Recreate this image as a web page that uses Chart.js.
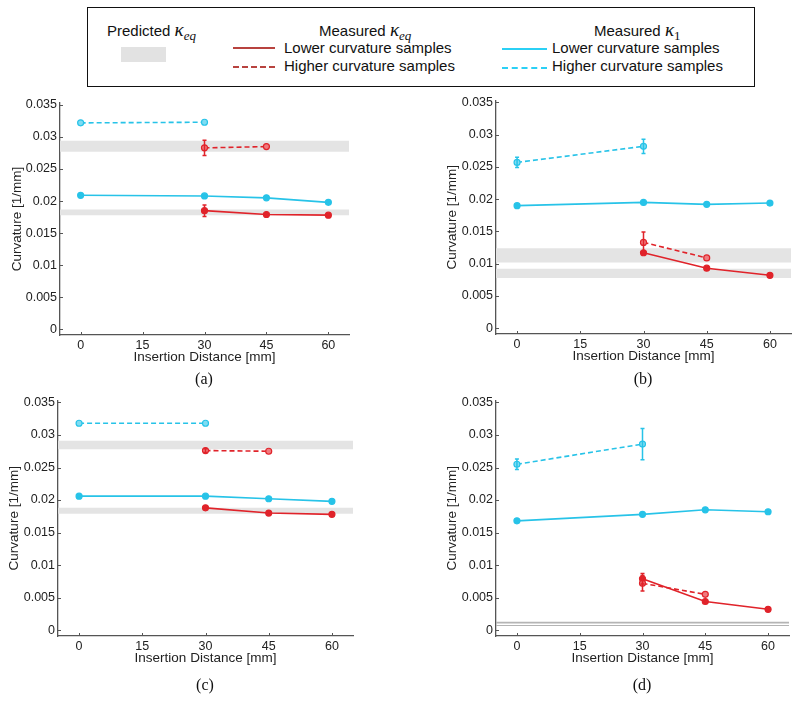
<!DOCTYPE html>
<html>
<head>
<meta charset="utf-8">
<script src="https://cdn.jsdelivr.net/npm/chart.js@4/dist/chart.umd.min.js"></script>
<style>
  body { margin: 0; width: 800px; height: 701px; position: relative; overflow: hidden; background: #fff;
         font-family: "Liberation Sans", Arial, sans-serif; color: #111; }
  canvas { position: absolute; }
  .box { position: absolute; left: 87px; top: 7px; width: 666px; height: 78px; border: 1.5px solid #111; }
  .lg { position: absolute; font-size: 15px; line-height: 18px; white-space: nowrap; }
  .k { font-family: "Liberation Serif", "DejaVu Serif", serif; font-style: italic; font-size: 19px; }
  .k sub { font-size: 13px; vertical-align: -4px; line-height: 0; }
  .swatch { position: absolute; }
  .cap { position: absolute; font-family: "Liberation Serif", "DejaVu Serif", serif; font-size: 16px;
         transform: translate(-50%, -50%); }
</style>
</head>
<body>
<div class="box"></div>
<div class="lg" style="left:107px;top:21px">Predicted <span class="k">κ<sub>eq</sub></span></div>
<div class="swatch" style="left:121px;top:47px;width:45px;height:15px;background:#e2e2e2"></div>
<div class="lg" style="left:319px;top:21px">Measured <span class="k">κ<sub>eq</sub></span></div>
<div class="swatch" style="left:233px;top:47px;width:42px;border-top:2px solid #b8433f"></div>
<div class="swatch" style="left:233px;top:66px;width:42px;border-top:2px dashed #b8433f"></div>
<div class="lg" style="left:284px;top:39px">Lower curvature samples</div>
<div class="lg" style="left:284px;top:57px">Higher curvature samples</div>
<div class="lg" style="left:594px;top:21px">Measured <span class="k">κ<sub style="font-style:normal">1</sub></span></div>
<div class="swatch" style="left:502px;top:48px;width:45px;border-top:2px solid #2bd0f5"></div>
<div class="swatch" style="left:502px;top:67px;width:45px;border-top:2px dashed #2bd0f5"></div>
<div class="lg" style="left:552px;top:39px">Lower curvature samples</div>
<div class="lg" style="left:552px;top:57px">Higher curvature samples</div>

<canvas id="chartA" width="400" height="300" style="left:0;top:90px"></canvas>
<canvas id="chartB" width="364" height="300" style="left:436px;top:90px"></canvas>
<canvas id="chartC" width="400" height="300" style="left:0;top:390px"></canvas>
<canvas id="chartD" width="364" height="300" style="left:436px;top:390px"></canvas>

<div class="cap" style="left:204px;top:379px">(a)</div>
<div class="cap" style="left:643px;top:379px">(b)</div>
<div class="cap" style="left:205px;top:685px">(c)</div>
<div class="cap" style="left:642px;top:685px">(d)</div>

<script>
// Axis ticks and ranges
const xTicks = [0, 15, 30, 45, 60];
const yTicks = [0, 0.005, 0.01, 0.015, 0.02, 0.025, 0.03, 0.035];
const xMin = -5, xMax = 65;
const yMin = -0.0009, yMax = 0.0353;

// Insertion distances [mm] of each series
const distK1Low = [0, 30, 45, 60];
const distK1High = [0, 30];
const distKeqLow = [30, 45, 60];
const distKeqHigh = [30, 45];

// (a)
const aK1Low = [0.0209, 0.0208, 0.0205, 0.0198];
const aK1High = [0.0322, 0.0323];
const aK1HighErr = [0, 0];
const aKeqLow = [0.0185, 0.0179, 0.0178];
const aKeqLowErr = [0.0009, 0, 0];
const aKeqHigh = [0.0283, 0.0285];
const aKeqHighErr = [0.0012, 0];
const aBands = [[0.0178, 0.0187], [0.0277, 0.0294]];

// (b)
const bK1Low = [0.0190, 0.0195, 0.0192, 0.0194];
const bK1High = [0.0257, 0.0282];
const bK1HighErr = [0.0008, 0.0011];
const bKeqLow = [0.0117, 0.0093, 0.0082];
const bKeqLowErr = [0, 0, 0];
const bKeqHigh = [0.0133, 0.0109];
const bKeqHighErr = [0.0016, 0];
const bBands = [[0.0078, 0.0092], [0.0102, 0.0124]];

// (c)
const cK1Low = [0.0206, 0.0206, 0.0202, 0.0198];
const cK1High = [0.0318, 0.0318];
const cK1HighErr = [0, 0];
const cKeqLow = [0.0188, 0.0180, 0.0178];
const cKeqLowErr = [0.0002, 0, 0];
const cKeqHigh = [0.0276, 0.0275];
const cKeqHighErr = [0.0003, 0];
const cBands = [[0.0179, 0.0188], [0.0278, 0.0291]];

// (d)
const dK1Low = [0.0168, 0.0178, 0.0185, 0.0182];
const dK1High = [0.0255, 0.0286];
const dK1HighErr = [0.0008, 0.0024];
const dKeqLow = [0.0079, 0.0044, 0.0032];
const dKeqLowErr = [0.0008, 0, 0];
const dKeqHigh = [0.0072, 0.0055];
const dKeqHighErr = [0.0012, 0];
const dBands = [[0.00065, 0.0008], [0.00103, 0.00128]];

const cyan = '#27c3e8';
const red = '#e0232a';
const axisColor = '#555';

Chart.defaults.font.family = '"Liberation Sans", Arial, sans-serif';
Chart.defaults.color = '#222';

// Vertical error bars, read from the dataset's "errors" list
const errorBars = {
    id: 'errorBars',
    afterDatasetsDraw(chart) {
        const { ctx, scales: { x, y } } = chart;
        chart.data.datasets.forEach(ds => {
            if (!ds.errors) return;
            ctx.save();
            ctx.strokeStyle = ds.borderColor;
            ctx.lineWidth = 1.5;
            ds.data.forEach((p, i) => {
                const e = ds.errors[i];
                if (!e) return;
                const px = x.getPixelForValue(p.x);
                const y1 = y.getPixelForValue(p.y - e);
                const y2 = y.getPixelForValue(p.y + e);
                ctx.beginPath();
                ctx.moveTo(px, y1); ctx.lineTo(px, y2);
                ctx.moveTo(px - 2, y1); ctx.lineTo(px + 2, y1);
                ctx.moveTo(px - 2, y2); ctx.lineTo(px + 2, y2);
                ctx.stroke();
            });
            ctx.restore();
        });
    }
};

// Matlab-style ticks pointing into the plot
const inwardTicks = {
    id: 'inwardTicks',
    afterDraw(chart) {
        const { ctx, chartArea: a, scales: { x, y } } = chart;
        ctx.save();
        ctx.strokeStyle = axisColor;
        ctx.lineWidth = 1;
        ctx.beginPath();
        x.ticks.forEach(t => {
            const px = Math.round(x.getPixelForValue(t.value)) + 0.5;
            ctx.moveTo(px, a.bottom); ctx.lineTo(px, a.bottom - 3);
        });
        y.ticks.forEach(t => {
            const py = Math.round(y.getPixelForValue(t.value)) + 0.5;
            ctx.moveTo(a.left, py); ctx.lineTo(a.left + 3, py);
        });
        ctx.stroke();
        ctx.restore();
    }
};

function points(xs, ys) {
    return xs.map((x, i) => ({ x: x, y: ys[i] }));
}

function series(xs, ys, errs, color, dashed, fill) {
    return {
        data: points(xs, ys),
        errors: errs,
        borderColor: color,
        backgroundColor: fill,
        pointBackgroundColor: fill,
        pointBorderColor: color,
        pointBorderWidth: 1.2,
        pointRadius: 3,
        borderWidth: 1.6,
        borderDash: dashed ? [5, 3] : [],
        fill: false,
        order: 1
    };
}

function buildChart(id, p, g) {
    const datasets = [];
    p.bands.forEach(b => {
        datasets.push({ data: [{ x: xMin, y: b[0] }, { x: xMax, y: b[0] }], borderWidth: 0, pointRadius: 0, fill: false, order: 10 });
        datasets.push({ data: [{ x: xMin, y: b[1] }, { x: xMax, y: b[1] }], borderWidth: 0, pointRadius: 0,
                        fill: '-1', backgroundColor: g.bandColor, order: 10 });
    });
    datasets.push(series(distK1High, p.k1High, p.k1HighErr, cyan, true, '#7fdcf2'));
    datasets.push(series(distK1Low, p.k1Low, null, cyan, false, cyan));
    datasets.push(series(distKeqHigh, p.keqHigh, p.keqHighErr, red, true, '#f07a7e'));
    datasets.push(series(distKeqLow, p.keqLow, p.keqLowErr, red, false, red));

    return new Chart(document.getElementById(id), {
        type: 'line',
        data: { datasets: datasets },
        plugins: [errorBars, inwardTicks],
        options: {
            responsive: false,
            animation: false,
            layout: { padding: { left: 0, right: g.padR, top: g.padT, bottom: 0 } },
            plugins: { legend: { display: false }, tooltip: { enabled: false } },
            scales: {
                x: {
                    type: 'linear', min: xMin, max: xMax,
                    afterBuildTicks: s => { s.ticks = xTicks.map(v => ({ value: v })); },
                    afterFit: s => { s.height = g.xAxisHeight; },
                    ticks: { padding: 3, font: { size: 12.5 }, maxRotation: 0, autoSkip: false },
                    grid: { display: false, drawTicks: false },
                    border: { display: true, color: axisColor, width: 1.3 },
                    title: { display: true, text: 'Insertion Distance [mm]', font: { size: 13.5 },
                             padding: { top: 0, bottom: g.xTitlePad } }
                },
                y: {
                    type: 'linear', min: yMin, max: yMax,
                    afterBuildTicks: s => { s.ticks = yTicks.map(v => ({ value: v })); },
                    afterFit: s => { s.width = g.yAxisWidth; },
                    ticks: { padding: 3, font: { size: 12.5 }, callback: v => String(v) },
                    grid: { display: false, drawTicks: false },
                    border: { display: true, color: axisColor, width: 1.3 },
                    title: { display: true, text: 'Curvature [1/mm]', font: { size: 13.5 },
                             padding: { top: g.yTitlePad, bottom: 0 } }
                }
            }
        }
    });
}

buildChart('chartA',
    { k1Low: aK1Low, k1High: aK1High, k1HighErr: aK1HighErr, keqLow: aKeqLow, keqLowErr: aKeqLowErr,
      keqHigh: aKeqHigh, keqHighErr: aKeqHighErr, bands: aBands },
    { padR: 51, padT: 13, xAxisHeight: 55, yAxisWidth: 60, xTitlePad: 25, yTitlePad: 9, bandColor: '#e4e4e4' });

buildChart('chartB',
    { k1Low: bK1Low, k1High: bK1High, k1HighErr: bK1HighErr, keqLow: bKeqLow, keqLowErr: bKeqLowErr,
      keqHigh: bKeqHigh, keqHighErr: bKeqHighErr, bands: bBands },
    { padR: 9, padT: 8, xAxisHeight: 56, yAxisWidth: 60, xTitlePad: 26, yTitlePad: 8, bandColor: '#e4e4e4' });

buildChart('chartC',
    { k1Low: cK1Low, k1High: cK1High, k1HighErr: cK1HighErr, keqLow: cKeqLow, keqLowErr: cKeqLowErr,
      keqHigh: cKeqHigh, keqHighErr: cKeqHighErr, bands: cBands },
    { padR: 47, padT: 9, xAxisHeight: 54, yAxisWidth: 58, xTitlePad: 24, yTitlePad: 6, bandColor: '#e4e4e4' });

buildChart('chartD',
    { k1Low: dK1Low, k1High: dK1High, k1HighErr: dK1HighErr, keqLow: dKeqLow, keqLowErr: dKeqLowErr,
      keqHigh: dKeqHigh, keqHighErr: dKeqHighErr, bands: dBands },
    { padR: 11, padT: 10, xAxisHeight: 54, yAxisWidth: 60, xTitlePad: 24, yTitlePad: 8, bandColor: '#b4b4b4' });
</script>
</body>
</html>
